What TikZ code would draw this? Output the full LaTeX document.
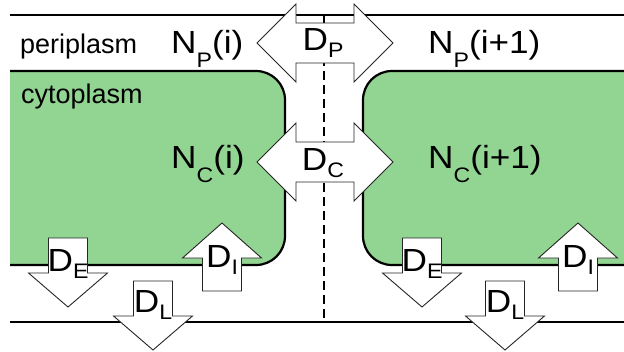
\documentclass[tikz,border=0pt]{standalone}
\usepackage{fontspec}
\setmainfont{Liberation Sans}
\newfontfamily\labelfont[FakeStretch=1.1]{Liberation Sans}
\definecolor{cellgreen}{RGB}{146,212,146}
% subscripts of the pool labels sit well below the baseline, those of the rates less so
\newcommand\Nsub[1]{\raisebox{-14pt}{\fontsize{21}{21}\selectfont #1}}
\newcommand\Dsub[1]{\raisebox{-7pt}{\fontsize{21}{21}\selectfont #1}}
\begin{document}
\begin{tikzpicture}[x=1pt,y=-1pt,
  membrane/.style={line width=2.2pt, black},
  cellfill/.style={fill=cellgreen},
  cellborder/.style={draw=black, line width=2.2pt},
  junction/.style={line width=2.2pt, black, dash pattern=on 9pt off 5pt},
  flux/.style={fill=white, draw=black!85, line width=0.9pt, line join=miter},
  region/.style={anchor=base west, inner sep=0pt, font=\fontsize{27}{27}\selectfont},
  pool/.style={anchor=base west, inner sep=0pt, font=\labelfont\fontsize{32}{32}\selectfont},
  rate/.style={anchor=base, inner sep=0pt, font=\labelfont\fontsize{32}{32}\selectfont},
  pics/twoway/.style={code={
    \draw[flux] (-68,0) -- (-29,-39) -- (-29,-20) -- (29,-20) -- (29,-39) -- (68,0)
      -- (29,39) -- (29,20) -- (-29,20) -- (-29,39) -- cycle;}},
  pics/downflux/.style={code={
    \draw[flux] (-19.5,0) -- (19.5,0) -- (19.5,35) -- (39.5,35) -- (0,69)
      -- (-39.5,35) -- (-19.5,35) -- cycle;}},
  pics/upflux/.style={code={
    \draw[flux] (-19.5,0) -- (19.5,0) -- (19.5,-33) -- (39.5,-33) -- (0,-68)
      -- (-39.5,-33) -- (-19.5,-33) -- cycle;}}]
\useasboundingbox (0,0) rectangle (624,351);

% cytoplasm of cell i and cell i+1
\fill[cellfill] (10,71) -- (256,71) arc[start angle=-90, end angle=0, radius=29]
  -- (285,236) arc[start angle=0, end angle=90, radius=29] -- (10,265) -- cycle;
\draw[cellborder] (10,71) -- (256,71) arc[start angle=-90, end angle=0, radius=29]
  -- (285,236) arc[start angle=0, end angle=90, radius=29] -- (10,265);
\fill[cellfill] (624,71) -- (392,71) arc[start angle=-90, end angle=-180, radius=29]
  -- (363,236) arc[start angle=180, end angle=90, radius=29] -- (624,265) -- cycle;
\draw[cellborder] (624,71) -- (392,71) arc[start angle=-90, end angle=-180, radius=29]
  -- (363,236) arc[start angle=180, end angle=90, radius=29] -- (624,265);

% outer and inner membranes, boundary between compartments
\coordinate (outerL) at (10,15);   \coordinate (outerR) at (624,15);
\coordinate (innerL) at (10,322);  \coordinate (innerR) at (624,322);
\coordinate (cutTop) at (324,15);  \coordinate (cutBot) at (324,322);
\draw[membrane] (outerL) -- (outerR);
\draw[membrane] (innerL) -- (innerR);
\draw[junction] (cutTop) -- (cutBot);

% fluxes
\pic (fp) at (325,43) {twoway};
\pic (fc) at (325,162) {twoway};
\pic (fe1) at (68,238) {downflux};
\pic (fl1) at (153,281) {downflux};
\pic (fi1) at (222,291) {upflux};
\pic (fe2) at (422,238) {downflux};
\pic (fl2) at (505,281) {downflux};
\pic (fi2) at (578,291) {upflux};

% compartment names
\node[region] (peri) at (20,53) {periplasm};
\node[region] (cyto) at (21,103) {cytoplasm};

% pools
\node[pool] (npi)  at (171,53)  {N\Nsub{P}(i)};
\node[pool] (npi1) at (428,53)  {N\Nsub{P}(i+1)};
\node[pool] (nci)  at (171,168) {N\Nsub{C}(i)};
\node[pool] (nci1) at (428,168) {N\Nsub{C}(i+1)};

% rates
\node[rate] (dp)  at (323,50)  {D\Dsub{P}};
\node[rate] (dc)  at (323,170) {D\Dsub{C}};
\node[rate] (de1) at (68,271)  {D\Dsub{E}};
\node[rate] (dl1) at (153,312) {D\Dsub{L}};
\node[rate] (di1) at (222,267) {D\Dsub{I}};
\node[rate] (de2) at (422,271) {D\Dsub{E}};
\node[rate] (dl2) at (505,312) {D\Dsub{L}};
\node[rate] (di2) at (578,267) {D\Dsub{I}};
\end{tikzpicture}
\end{document}
